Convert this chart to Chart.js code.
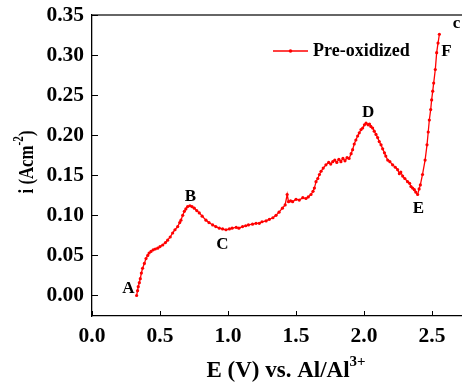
<!DOCTYPE html>
<html>
<head>
<meta charset="utf-8">
<script src="https://cdn.jsdelivr.net/npm/chart.js@4.4.1/dist/chart.umd.min.js"></script>
<style>
  html, body { margin: 0; padding: 0; background: #fff; overflow: hidden; }
  #wrap { width: 462px; height: 385px; overflow: hidden; }
</style>
</head>
<body>
<div id="wrap"><canvas id="cvChart" width="470" height="385"></canvas></div>
<script>
// potential E (V) vs. Al/Al3+
const eVals = [0.328, 0.335, 0.340, 0.348, 0.355, 0.363, 0.372, 0.385, 0.397, 0.410,
    0.420, 0.434, 0.450, 0.465, 0.483, 0.500, 0.520, 0.540, 0.556, 0.575,
    0.593, 0.610, 0.630, 0.645, 0.654, 0.667, 0.679, 0.690, 0.703, 0.720,
    0.735, 0.752, 0.770, 0.789, 0.810, 0.838, 0.860, 0.887, 0.910, 0.936,
    0.960, 0.985, 1.010, 1.030, 1.060, 1.080, 1.107, 1.130, 1.150, 1.180,
    1.206, 1.230, 1.250, 1.280, 1.304, 1.330, 1.353, 1.375, 1.400, 1.420,
    1.435, 1.445, 1.460, 1.475, 1.500, 1.524, 1.550, 1.573, 1.590, 1.610,
    1.625, 1.635, 1.647, 1.660, 1.672, 1.684, 1.700, 1.720, 1.740, 1.755,
    1.770, 1.785, 1.800, 1.815, 1.830, 1.845, 1.860, 1.875, 1.890, 1.905,
    1.916, 1.928, 1.940, 1.953, 1.965, 1.978, 1.990, 2.003, 2.015, 2.030,
    2.040, 2.050, 2.063, 2.075, 2.088, 2.100, 2.112, 2.125, 2.137, 2.150,
    2.160, 2.174, 2.190, 2.210, 2.230, 2.247, 2.260, 2.270, 2.284, 2.300,
    2.320, 2.335, 2.345, 2.357, 2.370, 2.380, 2.394, 2.405, 2.414, 2.430,
    2.449, 2.463, 2.472, 2.480, 2.490, 2.497, 2.505, 2.512, 2.524, 2.534,
    2.544, 2.554];
// current density i (A cm^-2)
const iVals = [0.000, 0.006, 0.011, 0.016, 0.021, 0.028, 0.034, 0.040, 0.046, 0.050,
    0.053, 0.055, 0.057, 0.058, 0.059, 0.061, 0.063, 0.066, 0.069, 0.073,
    0.078, 0.082, 0.086, 0.091, 0.094, 0.100, 0.105, 0.108, 0.111, 0.112,
    0.111, 0.109, 0.106, 0.103, 0.099, 0.094, 0.091, 0.088, 0.086, 0.084,
    0.083, 0.082, 0.083, 0.084, 0.085, 0.084, 0.086, 0.087, 0.088, 0.089,
    0.090, 0.090, 0.092, 0.093, 0.095, 0.097, 0.100, 0.104, 0.109, 0.113,
    0.126, 0.117, 0.118, 0.117, 0.120, 0.119, 0.122, 0.121, 0.123, 0.126,
    0.130, 0.134, 0.142, 0.146, 0.151, 0.155, 0.159, 0.163, 0.166, 0.164,
    0.167, 0.169, 0.166, 0.170, 0.167, 0.171, 0.168, 0.172, 0.171, 0.177,
    0.182, 0.189, 0.194, 0.199, 0.203, 0.207, 0.209, 0.213, 0.215, 0.213,
    0.214, 0.211, 0.209, 0.205, 0.201, 0.197, 0.192, 0.188, 0.183, 0.178,
    0.174, 0.169, 0.167, 0.163, 0.160, 0.157, 0.152, 0.154, 0.149, 0.146,
    0.142, 0.140, 0.136, 0.134, 0.132, 0.129, 0.126, 0.133, 0.138, 0.151,
    0.169, 0.188, 0.204, 0.219, 0.232, 0.244, 0.255, 0.265, 0.282, 0.303,
    0.315, 0.326];

const xTicks = [0, 0.5, 1.0, 1.5, 2.0, 2.5];
const yTicks = [0, 0.05, 0.10, 0.15, 0.20, 0.25, 0.30, 0.35];

// point labels on the curve (text, E, i)
const markLabels = ['A', 'B', 'C', 'D', 'E', 'F', 'c'];
const markE = [0.267, 0.723, 0.958, 2.030, 2.400, 2.605, 2.680];
const markI = [0.009, 0.124, 0.064, 0.228, 0.109, 0.304, 0.339];

const seriesName = 'Pre-oxidized';
const RED = '#ff0000';
const FONT = '"Liberation Serif", "Times New Roman", serif';

const points = eVals.map((e, k) => ({ x: e, y: iVals[k] }));

const decorPlugin = {
    id: 'decor',
    afterDraw(chart) {
        const ctx = chart.ctx;
        const area = chart.chartArea;
        const xs = chart.scales.x;
        const ys = chart.scales.y;
        ctx.save();

        // top frame line
        ctx.strokeStyle = '#333';
        ctx.lineWidth = 1.3;
        ctx.beginPath();
        ctx.moveTo(area.left, area.top);
        ctx.lineTo(area.right, area.top);
        ctx.stroke();

        // inward tick marks
        ctx.strokeStyle = '#000';
        ctx.lineWidth = 1;
        ctx.beginPath();
        xTicks.forEach(v => {
            const px = Math.round(xs.getPixelForValue(v)) + 0.5;
            ctx.moveTo(px, area.bottom);
            ctx.lineTo(px, area.bottom - 5);
        });
        yTicks.forEach(v => {
            const py = Math.round(ys.getPixelForValue(v)) + 0.5;
            ctx.moveTo(area.left, py);
            ctx.lineTo(area.left + 6, py);
        });
        ctx.stroke();

        // legend
        const ly = 51;
        ctx.strokeStyle = RED;
        ctx.lineWidth = 1.5;
        ctx.beginPath();
        ctx.moveTo(273, ly);
        ctx.lineTo(308, ly);
        ctx.stroke();
        ctx.fillStyle = RED;
        ctx.beginPath();
        ctx.arc(290.5, ly, 1.8, 0, Math.PI * 2);
        ctx.fill();
        ctx.fillStyle = '#000';
        ctx.font = 'bold 18px ' + FONT;
        ctx.textAlign = 'left';
        ctx.textBaseline = 'middle';
        ctx.fillText(seriesName, 313, ly);

        // curve letters
        ctx.font = 'bold 17px ' + FONT;
        ctx.textAlign = 'center';
        markLabels.forEach((t, k) => {
            ctx.fillText(t, xs.getPixelForValue(markE[k]), ys.getPixelForValue(markI[k]));
        });

        // x axis title with superscript
        ctx.textBaseline = 'alphabetic';
        ctx.textAlign = 'left';
        const main = 'E (V) vs. Al/Al';
        const sup = '3+';
        ctx.font = 'bold 23px ' + FONT;
        const wMain = ctx.measureText(main).width;
        ctx.font = 'bold 15px ' + FONT;
        const wSup = ctx.measureText(sup).width;
        let tx = 286 - (wMain + wSup) / 2;
        ctx.font = 'bold 23px ' + FONT;
        ctx.fillText(main, tx, 377);
        ctx.font = 'bold 15px ' + FONT;
        ctx.fillText(sup, tx + wMain, 366);

        // y axis title, rotated and a little condensed, with superscript
        ctx.translate(33, 162);
        ctx.rotate(-Math.PI / 2);
        ctx.scale(0.8, 1);
        const yMain = 'i (Acm';
        const ySup = '-2';
        const yEnd = ')';
        ctx.font = 'bold 21px ' + FONT;
        const w1 = ctx.measureText(yMain).width;
        const w3 = ctx.measureText(yEnd).width;
        ctx.font = 'bold 14px ' + FONT;
        const w2 = ctx.measureText(ySup).width;
        let sx = -(w1 + w2 + w3) / 2;
        ctx.font = 'bold 21px ' + FONT;
        ctx.fillText(yMain, sx, 0);
        ctx.font = 'bold 14px ' + FONT;
        ctx.fillText(ySup, sx + w1, -10);
        ctx.font = 'bold 21px ' + FONT;
        ctx.fillText(yEnd, sx + w1 + w2, 0);

        ctx.restore();
    }
};

const ctxMain = document.getElementById('cvChart').getContext('2d');
const mainChart = new Chart(ctxMain, {
    type: 'scatter',
    data: {
        datasets: [{
            label: seriesName,
            data: points,
            showLine: true,
            borderColor: RED,
            backgroundColor: RED,
            borderWidth: 1.3,
            pointRadius: 1.6,
            pointHoverRadius: 1.6,
            pointBorderWidth: 0
        }]
    },
    options: {
        responsive: false,
        devicePixelRatio: 1,
        animation: false,
        layout: { padding: { top: 15, right: 3, left: 0, bottom: 0 } },
        plugins: {
            legend: { display: false },
            tooltip: { enabled: false }
        },
        scales: {
            x: {
                type: 'linear',
                min: 0,
                max: 2.757,
                grid: { display: false },
                border: { display: true, color: '#000', width: 1.3 },
                afterBuildTicks: s => { s.ticks = xTicks.map(v => ({ value: v })); },
                afterFit: s => { s.height = 69; },
                ticks: {
                    padding: 0,
                    color: '#000',
                    font: { family: FONT, size: 21.5, weight: 'bold' },
                    callback: v => Number(v).toFixed(1)
                }
            },
            y: {
                type: 'linear',
                min: -0.0256,
                max: 0.35,
                grid: { display: false },
                border: { display: true, color: '#000', width: 1.3 },
                afterBuildTicks: s => { s.ticks = yTicks.map(v => ({ value: v })); },
                afterFit: s => { s.width = 92; },
                ticks: {
                    padding: 0,
                    color: '#000',
                    font: { family: FONT, size: 21.5, weight: 'bold' },
                    callback: v => Number(v).toFixed(2)
                }
            }
        }
    },
    plugins: [decorPlugin]
});
</script>
</body>
</html>
